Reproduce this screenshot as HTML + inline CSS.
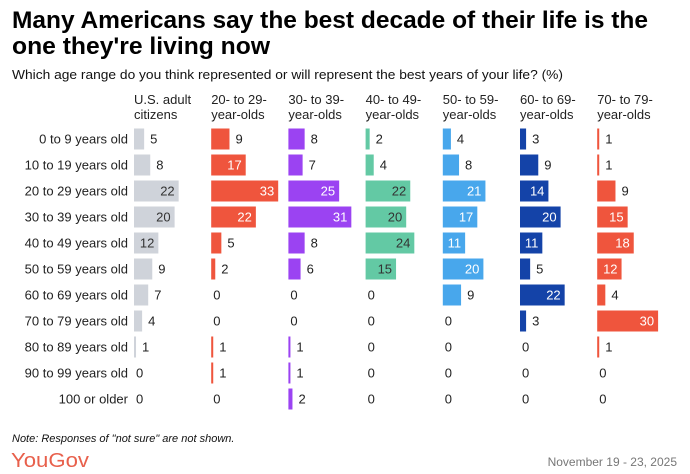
<!DOCTYPE html>
<html><head><meta charset="utf-8"><style>
body{margin:0;background:#fff;}
svg{display:block;font-family:"Liberation Sans",sans-serif;}
</style></head><body>
<svg id="chart" width="690" height="474" viewBox="0 0 690 474">
<text x="12" y="28" font-size="24" font-weight="bold" fill="#000" textLength="636" lengthAdjust="spacingAndGlyphs">Many Americans say the best decade of their life is the</text>
<text x="12" y="54" font-size="24" font-weight="bold" fill="#000" textLength="258" lengthAdjust="spacingAndGlyphs">one they're living now</text>
<text x="12" y="79" font-size="13" fill="#111" textLength="551" lengthAdjust="spacingAndGlyphs">Which age range do you think represented or will represent the best years of your life? (%)</text>
<g id="plot"></g>
<text x="12" y="442" font-size="11" font-style="italic" fill="#111">Note: Responses of "not sure" are not shown.</text>
<text x="11" y="467" font-size="20" fill="#e8604c" textLength="78" lengthAdjust="spacingAndGlyphs">YouGov</text>
<text x="677" y="466" font-size="12" fill="#777" text-anchor="end">November 19 - 23, 2025</text>
</svg>
<script>
const rowLabels = ["0 to 9 years old","10 to 19 years old","20 to 29 years old","30 to 39 years old","40 to 49 years old","50 to 59 years old","60 to 69 years old","70 to 79 years old","80 to 89 years old","90 to 99 years old","100 or older"];
const groupLine1 = ["U.S. adult","20- to 29-","30- to 39-","40- to 49-","50- to 59-","60- to 69-","70- to 79-"];
const groupLine2 = ["citizens","year-olds","year-olds","year-olds","year-olds","year-olds","year-olds"];
const usAdults = [5,8,22,20,12,9,7,4,1,0,0];
const age20s = [9,17,33,22,5,2,0,0,1,1,0];
const age30s = [8,7,25,31,8,6,0,0,1,1,2];
const age40s = [2,4,22,20,24,15,0,0,0,0,0];
const age50s = [4,8,21,17,11,20,9,0,0,0,0];
const age60s = [3,9,14,20,11,5,22,3,0,0,0];
const age70s = [1,1,9,15,18,12,4,30,1,0,0];
const series = [usAdults,age20s,age30s,age40s,age50s,age60s,age70s];
const colors = ["#cfd3da","#ef553d","#9b43f2","#63c9a4","#48a7ec","#1443a8","#ef553d"];
const insideText = ["#333","#fff","#fff","#333","#fff","#fff","#fff"];
const slug = ["us-adults","20s","30s","40s","50s","60s","70s"];

const svgNS="http://www.w3.org/2000/svg";
const plot=document.getElementById('plot');
const colX = i => 134 + i*77.2;
const rowY = j => 139 + j*26;
const w = v => v*2.03;
function mk(tag, attrs){const e=document.createElementNS(svgNS,tag);for(const k in attrs)e.setAttribute(k,attrs[k]);plot.appendChild(e);return e;}

rowLabels.forEach((l,j)=>{
  const t=mk('text',{x:128,y:rowY(j)+4.5,'font-size':13,fill:'#222','text-anchor':'end'});
  t.textContent=l;
  
  
});
series.forEach((vals,i)=>{
  const x0=colX(i);
  const h1=mk('text',{x:x0,y:104,'font-size':13,fill:'#222'});
  h1.textContent=groupLine1[i];
  
  
  const h2=mk('text',{x:x0,y:119,'font-size':13,fill:'#222'});
  h2.textContent=groupLine2[i];
  
  
  vals.forEach((v,j)=>{
    const cy=rowY(j);
    if(v>0){
      const r=mk('rect',{x:x0,y:cy-10.5,width:Math.max(w(v),2),height:21,fill:colors[i]});
      
      
    }
    const inside=v>=10;
    const t=mk('text',{x:inside?x0+w(v)-4:x0+(v>0?Math.max(w(v),2):0)+(v>0?6:2),y:cy+4.5,'font-size':13,
      fill:inside?insideText[i]:'#222','text-anchor':inside?'end':'start'});
    t.textContent=v;
    
    
  });
});
</script>
</body></html>
